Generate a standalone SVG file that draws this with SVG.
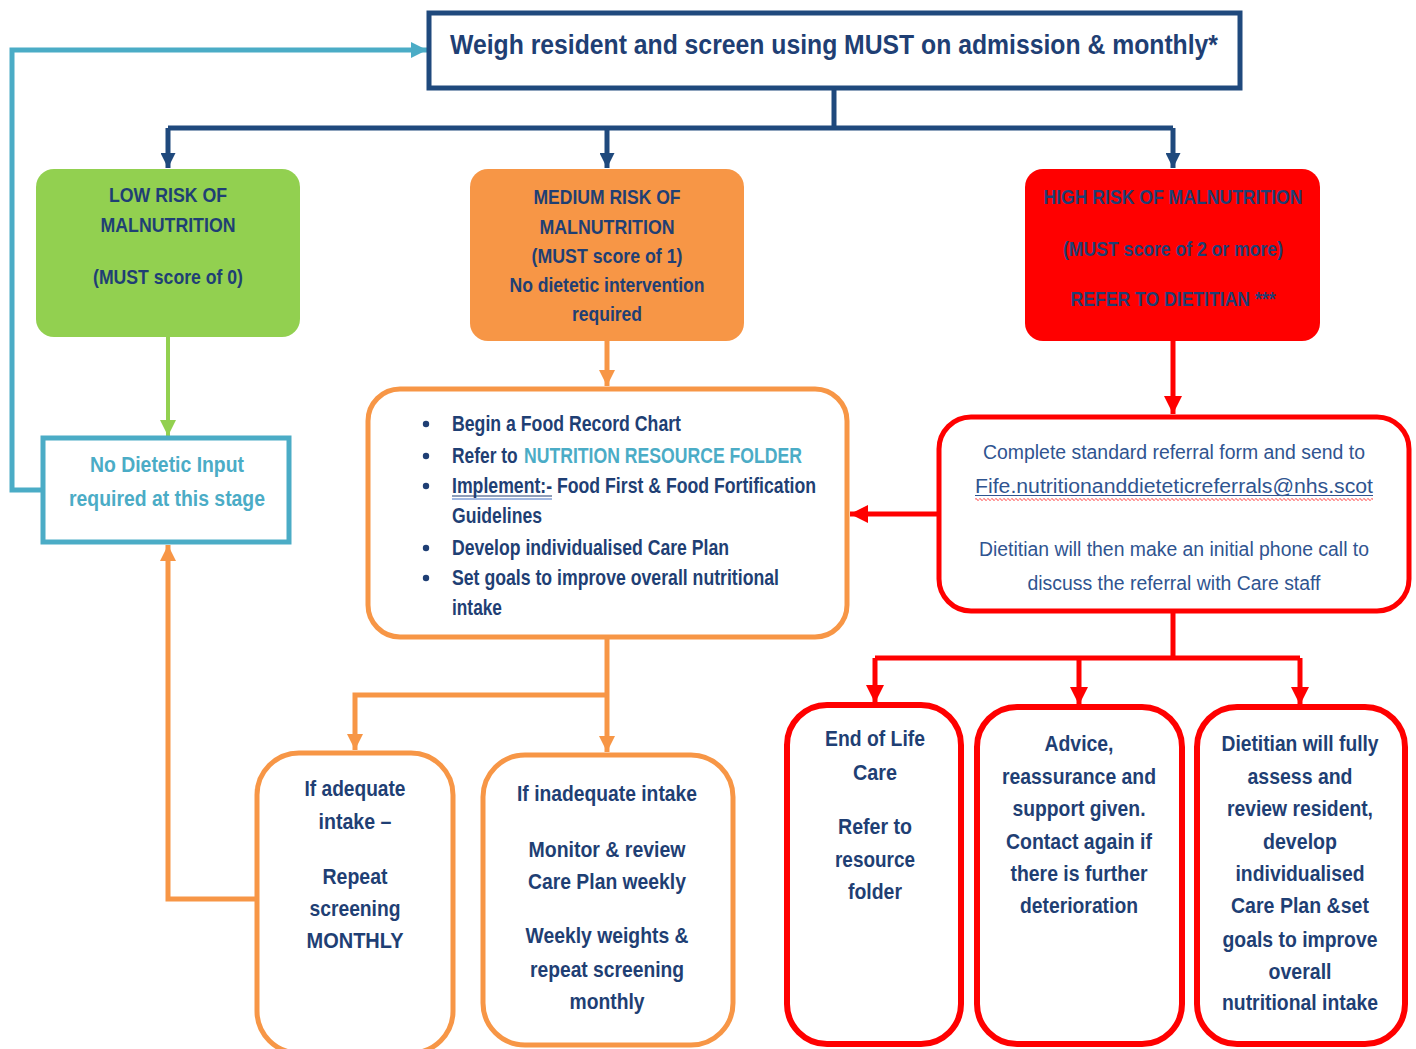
<svg xmlns="http://www.w3.org/2000/svg" width="1416" height="1049" viewBox="0 0 1416 1049">
<style>
text{font-family:"Liberation Sans Narrow","Liberation Sans",Arial,sans-serif;fill:#1F3F74;text-anchor:middle;font-size:22px;font-weight:bold}
.t{font-size:28px}
.hd{font-size:21px}
.ref{fill:#2F5490;font-weight:normal;font-size:20px}
.teal{fill:#4BACC6}
.l{text-anchor:start}
.navy{stroke:#1F497D;stroke-width:5;fill:none}
.org{stroke:#F79646;stroke-width:5;fill:none}
.red{stroke:#FF0000;stroke-width:5;fill:none}
.tl{stroke:#4BACC6;stroke-width:5;fill:none}
.grn{stroke:#92D050;stroke-width:4;fill:none}
</style>
<defs>
<marker id="aN" markerWidth="3" markerHeight="3" refX="6" refY="3" orient="auto" markerUnits="strokeWidth" viewBox="0 0 6 6"><path d="M0,0 L6,3 L0,6z" fill="#1F497D"/></marker>
<marker id="aO" markerWidth="3.2" markerHeight="3.2" refX="6" refY="3" orient="auto" markerUnits="strokeWidth" viewBox="0 0 6 6"><path d="M0,0 L6,3 L0,6z" fill="#F79646"/></marker>
<marker id="aR" markerWidth="3.6" markerHeight="3.6" refX="6" refY="3" orient="auto" markerUnits="strokeWidth" viewBox="0 0 6 6"><path d="M0,0 L6,3 L0,6z" fill="#FF0000"/></marker>
<marker id="aT" markerWidth="3.2" markerHeight="3.2" refX="6" refY="3" orient="auto" markerUnits="strokeWidth" viewBox="0 0 6 6"><path d="M0,0 L6,3 L0,6z" fill="#4BACC6"/></marker>
<marker id="aG" markerWidth="4" markerHeight="4" refX="6" refY="3" orient="auto" markerUnits="strokeWidth" viewBox="0 0 6 6"><path d="M0,0 L6,3 L0,6z" fill="#92D050"/></marker>
<pattern id="wave" x="975" y="497" width="4" height="4" patternUnits="userSpaceOnUse"><path d="M0,2.5 Q1,0.5 2,2.5 T4,2.5" fill="none" stroke="#FF0000" stroke-width="0.9"/></pattern>
</defs>
<rect width="1416" height="1049" fill="#ffffff"/>

<g id="connectors">
<path class="navy" d="M834,89 V128"/>
<path class="navy" d="M168,128 H1173"/>
<path class="navy" d="M168,128 V168" marker-end="url(#aN)"/>
<path class="navy" d="M607,128 V168" marker-end="url(#aN)"/>
<path class="navy" d="M1173,128 V168" marker-end="url(#aN)"/>
<path class="grn" d="M168,337 V436" marker-end="url(#aG)"/>
<path class="tl" d="M42,490 H12 V50 H427" marker-end="url(#aT)"/>
<path class="org" d="M607,341 V386" marker-end="url(#aO)"/>
<path class="red" d="M1173,341 V414" marker-end="url(#aR)"/>
<path class="red" d="M938,514 H850" marker-end="url(#aR)"/>
<path class="org" d="M607,638 V752" marker-end="url(#aO)"/>
<path class="org" d="M607,695 H355 V750" marker-end="url(#aO)"/>
<path class="org" d="M256,899 H168 V545" marker-end="url(#aO)"/>
<path class="red" d="M1173,612 V658"/>
<path class="red" d="M875,658 H1300"/>
<path class="red" d="M875,658 V703" marker-end="url(#aR)"/>
<path class="red" d="M1079,658 V705" marker-end="url(#aR)"/>
<path class="red" d="M1300,658 V705" marker-end="url(#aR)"/>
</g>

<g id="n-start">
<rect x="429" y="13" width="811" height="75" fill="#fff" stroke="#1F497D" stroke-width="5"/>
<text class="t" x="834" y="54" textLength="768" lengthAdjust="spacingAndGlyphs">Weigh resident and screen using MUST on admission &amp; monthly*</text>
</g>

<g id="n-low">
<rect x="36" y="169" width="264" height="168" rx="18" fill="#92D050"/>
<text class="hd" x="168" y="202" textLength="118" lengthAdjust="spacingAndGlyphs">LOW RISK OF</text>
<text class="hd" x="168" y="232" textLength="135" lengthAdjust="spacingAndGlyphs">MALNUTRITION</text>
<text class="hd" x="168" y="284" textLength="150" lengthAdjust="spacingAndGlyphs">(MUST score of 0)</text>
</g>

<g id="n-medium">
<rect x="470" y="169" width="274" height="172" rx="18" fill="#F79646"/>
<text class="hd" x="607" y="204" textLength="147" lengthAdjust="spacingAndGlyphs">MEDIUM RISK OF</text>
<text class="hd" x="607" y="234" textLength="135" lengthAdjust="spacingAndGlyphs">MALNUTRITION</text>
<text class="hd" x="607" y="263" textLength="151" lengthAdjust="spacingAndGlyphs">(MUST score of 1)</text>
<text class="hd" x="607" y="292" textLength="195" lengthAdjust="spacingAndGlyphs">No dietetic intervention</text>
<text class="hd" x="607" y="321" textLength="70" lengthAdjust="spacingAndGlyphs">required</text>
</g>

<g id="n-high">
<rect x="1025" y="169" width="295" height="172" rx="18" fill="#FF0000"/>
<text class="hd" x="1173" y="204" textLength="259" lengthAdjust="spacingAndGlyphs">HIGH RISK OF MALNUTRITION</text>
<text class="hd" x="1173" y="256" textLength="220" lengthAdjust="spacingAndGlyphs">(MUST score of 2 or more)</text>
<text class="hd" x="1173" y="306" textLength="205" lengthAdjust="spacingAndGlyphs">REFER TO DIETITIAN ***</text>
</g>

<g id="n-nodiet">
<rect x="43" y="438" width="246" height="104" fill="#fff" stroke="#4BACC6" stroke-width="5"/>
<text class="teal" x="167" y="472" textLength="154" lengthAdjust="spacingAndGlyphs">No Dietetic Input</text>
<text class="teal" x="167" y="506" textLength="196" lengthAdjust="spacingAndGlyphs">required at this stage</text>
</g>

<g id="n-actions">
<rect x="368" y="389" width="479" height="248" rx="32" fill="#fff" stroke="#F79646" stroke-width="5"/>
<g fill="#1F3F74">
<circle cx="426" cy="424" r="3.2"/>
<circle cx="426" cy="456" r="3.2"/>
<circle cx="426" cy="486" r="3.2"/>
<circle cx="426" cy="548" r="3.2"/>
<circle cx="426" cy="578" r="3.2"/>
</g>
<text class="l" x="452" y="431" textLength="229" lengthAdjust="spacingAndGlyphs">Begin a Food Record Chart</text>
<text class="l" x="452" y="463" transform="matrix(0.79,0,0,1,94.92,0)">Refer to</text>
<text class="l teal" x="524" y="463" textLength="278" lengthAdjust="spacingAndGlyphs">NUTRITION RESOURCE FOLDER</text>
<text class="l" x="452" y="493" textLength="364" lengthAdjust="spacingAndGlyphs">Implement:- Food First &amp; Food Fortification</text>
<line x1="452" y1="496" x2="552" y2="496" stroke="#1F3F74" stroke-width="1.2"/>
<line x1="452" y1="499" x2="552" y2="499" stroke="#4472C4" stroke-width="1.2"/>
<text class="l" x="452" y="523" textLength="90" lengthAdjust="spacingAndGlyphs">Guidelines</text>
<text class="l" x="452" y="555" textLength="277" lengthAdjust="spacingAndGlyphs">Develop individualised Care Plan</text>
<text class="l" x="452" y="585" textLength="327" lengthAdjust="spacingAndGlyphs">Set goals to improve overall nutritional</text>
<text class="l" x="452" y="615" textLength="50" lengthAdjust="spacingAndGlyphs">intake</text>
</g>

<g id="n-referral">
<rect x="939" y="417" width="470" height="194" rx="32" fill="#fff" stroke="#FF0000" stroke-width="5"/>
<text class="ref" x="1174" y="459" textLength="382" lengthAdjust="spacingAndGlyphs">Complete standard referral form and send to</text>
<text class="ref" x="1174" y="493" textLength="398" lengthAdjust="spacingAndGlyphs">Fife.nutritionanddieteticreferrals@nhs.scot</text>
<line x1="975" y1="495.5" x2="1373" y2="495.5" stroke="#2F5490" stroke-width="1.2"/>
<rect x="975" y="497" width="398" height="4" fill="url(#wave)"/>
<text class="ref" x="1174" y="556" textLength="390" lengthAdjust="spacingAndGlyphs">Dietitian will then make an initial phone call to</text>
<text class="ref" x="1174" y="590" textLength="293" lengthAdjust="spacingAndGlyphs">discuss the referral with Care staff</text>
</g>

<g id="n-adequate">
<rect x="257" y="753" width="196" height="300" rx="42" fill="#fff" stroke="#F79646" stroke-width="5"/>
<text x="355" y="796" textLength="101" lengthAdjust="spacingAndGlyphs">If adequate</text>
<text x="355" y="829" textLength="73" lengthAdjust="spacingAndGlyphs">intake –</text>
<text x="355" y="884" textLength="65" lengthAdjust="spacingAndGlyphs">Repeat</text>
<text x="355" y="916" textLength="91" lengthAdjust="spacingAndGlyphs">screening</text>
<text x="355" y="948" textLength="97" lengthAdjust="spacingAndGlyphs">MONTHLY</text>
</g>

<g id="n-inadequate">
<rect x="483" y="755" width="250" height="290" rx="42" fill="#fff" stroke="#F79646" stroke-width="5"/>
<text x="607" y="801" textLength="180" lengthAdjust="spacingAndGlyphs">If inadequate intake</text>
<text x="607" y="857" textLength="157" lengthAdjust="spacingAndGlyphs">Monitor &amp; review</text>
<text x="607" y="889" textLength="158" lengthAdjust="spacingAndGlyphs">Care Plan weekly</text>
<text x="607" y="943" textLength="163" lengthAdjust="spacingAndGlyphs">Weekly weights &amp;</text>
<text x="607" y="977" textLength="154" lengthAdjust="spacingAndGlyphs">repeat screening</text>
<text x="607" y="1009" textLength="75" lengthAdjust="spacingAndGlyphs">monthly</text>
</g>

<g id="n-eol">
<rect x="787" y="705" width="174" height="339" rx="40" fill="#fff" stroke="#FF0000" stroke-width="6"/>
<text x="875" y="746" textLength="100" lengthAdjust="spacingAndGlyphs">End of Life</text>
<text x="875" y="780" textLength="44" lengthAdjust="spacingAndGlyphs">Care</text>
<text x="875" y="834" textLength="74" lengthAdjust="spacingAndGlyphs">Refer to</text>
<text x="875" y="867" textLength="80" lengthAdjust="spacingAndGlyphs">resource</text>
<text x="875" y="899" textLength="54" lengthAdjust="spacingAndGlyphs">folder</text>
</g>

<g id="n-advice">
<rect x="977" y="707" width="205" height="337" rx="40" fill="#fff" stroke="#FF0000" stroke-width="6"/>
<text x="1079" y="751" textLength="69" lengthAdjust="spacingAndGlyphs">Advice,</text>
<text x="1079" y="784" textLength="154" lengthAdjust="spacingAndGlyphs">reassurance and</text>
<text x="1079" y="816" textLength="133" lengthAdjust="spacingAndGlyphs">support given.</text>
<text x="1079" y="849" textLength="146" lengthAdjust="spacingAndGlyphs">Contact again if</text>
<text x="1079" y="881" textLength="137" lengthAdjust="spacingAndGlyphs">there is further</text>
<text x="1079" y="913" textLength="118" lengthAdjust="spacingAndGlyphs">deterioration</text>
</g>

<g id="n-assess">
<rect x="1197" y="707" width="208" height="337" rx="40" fill="#fff" stroke="#FF0000" stroke-width="6"/>
<text x="1300" y="751" textLength="157" lengthAdjust="spacingAndGlyphs">Dietitian will fully</text>
<text x="1300" y="784" textLength="105" lengthAdjust="spacingAndGlyphs">assess and</text>
<text x="1300" y="816" textLength="146" lengthAdjust="spacingAndGlyphs">review resident,</text>
<text x="1300" y="849" textLength="74" lengthAdjust="spacingAndGlyphs">develop</text>
<text x="1300" y="881" textLength="129" lengthAdjust="spacingAndGlyphs">individualised</text>
<text x="1300" y="913" textLength="138" lengthAdjust="spacingAndGlyphs">Care Plan &amp;set</text>
<text x="1300" y="947" textLength="155" lengthAdjust="spacingAndGlyphs">goals to improve</text>
<text x="1300" y="979" textLength="63" lengthAdjust="spacingAndGlyphs">overall</text>
<text x="1300" y="1010" textLength="156" lengthAdjust="spacingAndGlyphs">nutritional intake</text>
</g>
</svg>
